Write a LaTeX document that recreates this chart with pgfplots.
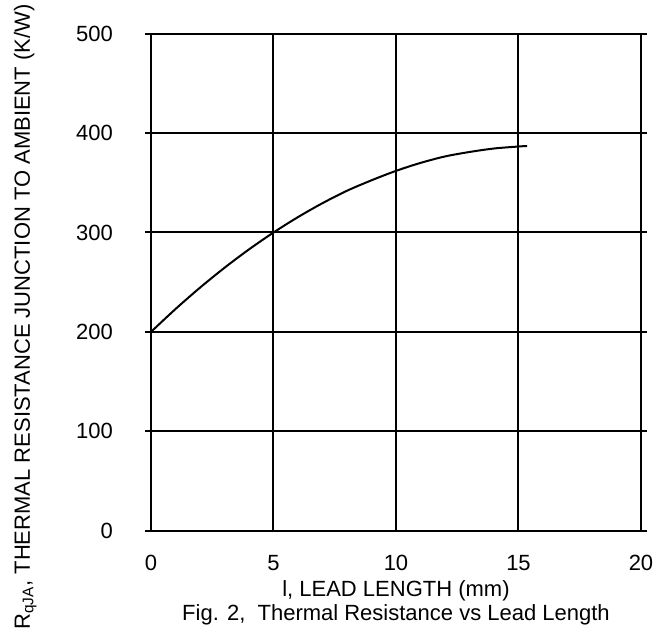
\documentclass[border=0pt]{standalone}
\usepackage{pgfplots}
\pgfplotsset{compat=1.18}
\usepackage{fontspec}
\setmainfont{Liberation Sans}
\begin{document}
\begin{tikzpicture}
\begin{axis}[
    name=ax,
    scale only axis,
    width=490pt, height=497pt,
    xmin=0, xmax=20, ymin=0, ymax=500,
    xtick={0,5,...,20}, ytick={0,100,...,500},
    grid=major,
    grid style={black, line width=2pt},
    axis line style={line width=2pt},
    tick align=outside,
    major tick length=6pt,
    xtick style={draw=none},
    ytick style={black, line width=2pt},
    /pgf/number format/assume math mode=true,
    tick label style={font=\fontsize{22}{26}\selectfont, inner sep=0pt},
    xticklabel style={anchor=base, yshift=-33.5pt},
    yticklabel style={anchor=east, xshift=-32pt},
    label style={font=\fontsize{22}{26}\selectfont, inner sep=0pt},
    xlabel={l, LEAD LENGTH (mm)},
    xlabel style={at={(axis description cs:0.5,0)}, anchor=base, yshift=-66pt},
    ylabel={R\textsubscript{qJA}, THERMAL RESISTANCE JUNCTION TO AMBIENT (K/W)},
    ylabel style={at={(axis description cs:-0.247,0.43)}, anchor=base},
]
\addplot[black, line width=2pt, smooth] coordinates {
(0,200) (1,223) (2,244.5) (3,264.5) (4,283) (5,300) (6,315.5) (7,329.5) (8,342)
(9,352.5) (10,362) (11,370) (12,376.5) (13,381) (14,384.5) (15,386.5) (15.35,387)};
\end{axis}
\node[font=\fontsize{22}{26}\selectfont, inner sep=0pt, anchor=base] at ([yshift=-90pt]ax.south)
  {Fig. 2,\ \ Thermal Resistance vs Lead Length};
\path ([shift={(-151pt,-104.3pt)}]ax.south west) rectangle ([shift={(29pt,33.7pt)}]ax.north east);
\end{tikzpicture}
\end{document}
